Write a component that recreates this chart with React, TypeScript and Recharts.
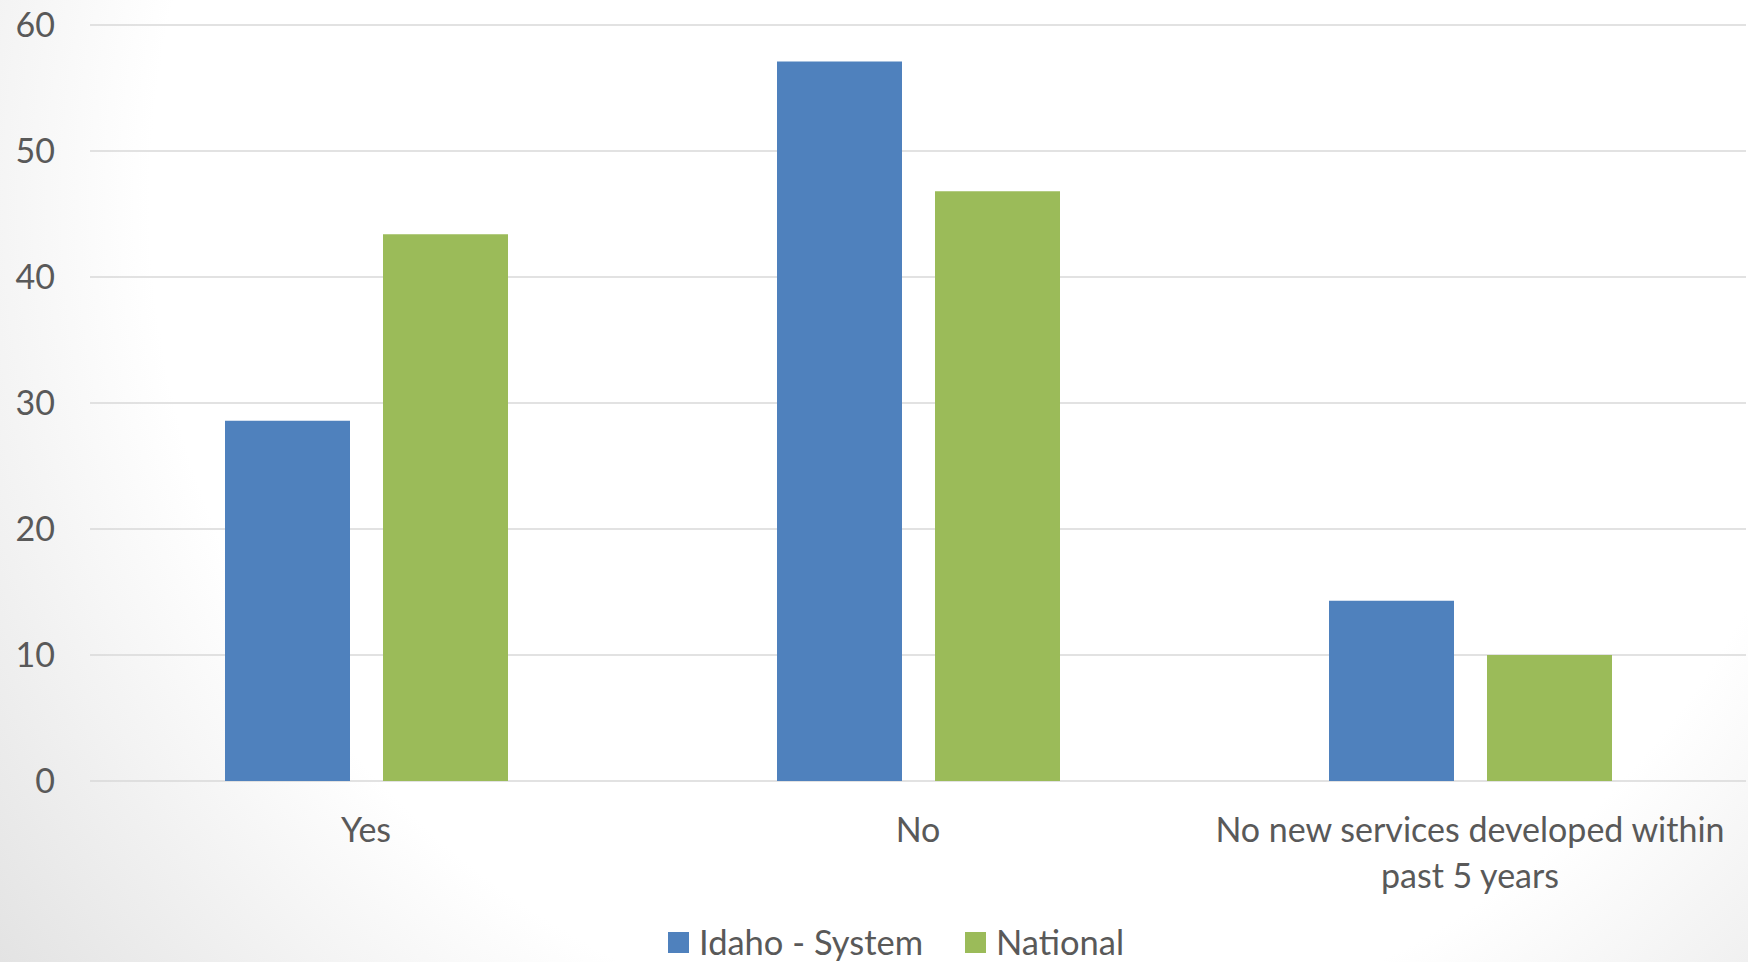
import { Bar, BarChart, CartesianGrid, Legend, XAxis, YAxis } from 'recharts';

const categories = ['Yes', 'No', 'No new services developed within past 5 years'];
const idahoSystem = [28.6, 57.1, 14.3];
const national = [43.4, 46.8, 10.0];
const yTicks = [0, 10, 20, 30, 40, 50, 60];

const data = categories.map((name, i) => ({
  name,
  idaho: idahoSystem[i],
  national: national[i],
}));

const FONT = 'Lato, "Open Sans", sans-serif';
const TEXT = '#595959';

function wrapWords(label: string, maxChars: number) {
  const lines: string[] = [];
  let cur = '';
  for (const w of label.split(' ')) {
    const next = cur ? `${cur} ${w}` : w;
    if (next.length > maxChars && cur) {
      lines.push(cur);
      cur = w;
    } else {
      cur = next;
    }
  }
  if (cur) lines.push(cur);
  return lines;
}

function CategoryTick(props: any) {
  const { x, y, payload } = props;
  const lines = wrapWords(String(payload.value), 32);
  return (
    <text x={x} y={y} textAnchor="middle" fill={TEXT} fontSize={34} fontFamily={FONT}>
      {lines.map((line, i) => (
        <tspan key={i} x={x} dy={i === 0 ? 61 : 46}>
          {line}
        </tspan>
      ))}
    </text>
  );
}

function LegendContent(props: any) {
  const { payload } = props;
  return (
    <div style={{ display: 'flex', alignItems: 'center', fontFamily: FONT, fontSize: 34.5, color: TEXT }}>
      {(payload || []).map((item: any, i: number) => (
        <div key={i} style={{ display: 'flex', alignItems: 'center', marginRight: 42 }}>
          <span style={{ width: 21, height: 21, background: item.color, marginRight: 10, display: 'inline-block' }} />
          <span style={{ lineHeight: '30px' }}>{item.value}</span>
        </div>
      ))}
    </div>
  );
}

export default function App() {
  return (
    <div
      style={{
        position: 'absolute',
        left: 0,
        top: 0,
        width: 1748,
        height: 962,
        overflow: 'hidden',
        background:
          'radial-gradient(circle at 1000px 200px, #ffffff 0px, #ffffff 850px, #e0e0e0 1300px)',
      }}
    >
      <BarChart
        width={1748}
        height={962}
        data={data}
        margin={{ top: 25, right: 2, bottom: 0, left: 0 }}
        barCategoryGap={135}
        barGap={33}
      >
        <CartesianGrid vertical={false} stroke="#d9d9d9" strokeWidth={1.5} />
        <XAxis
          dataKey="name"
          height={181}
          axisLine={false}
          tickLine={false}
          tickSize={0}
          tickMargin={0}
          interval={0}
          tick={<CategoryTick />}
        />
        <YAxis
          width={90}
          domain={[0, 60]}
          ticks={yTicks}
          axisLine={false}
          tickLine={false}
          tickSize={0}
          tickMargin={35}
          tick={{ fontSize: 34, fill: TEXT, fontFamily: FONT }}
        />
        <Legend
          layout="horizontal"
          verticalAlign="middle"
          align="center"
          wrapperStyle={{ top: 927, left: 668, width: 560 }}
          content={<LegendContent />}
        />
        <Bar dataKey="idaho" name="Idaho - System" fill="#4f81bd" isAnimationActive={false} />
        <Bar dataKey="national" name="National" fill="#9bbb59" isAnimationActive={false} />
      </BarChart>
    </div>
  );
}
